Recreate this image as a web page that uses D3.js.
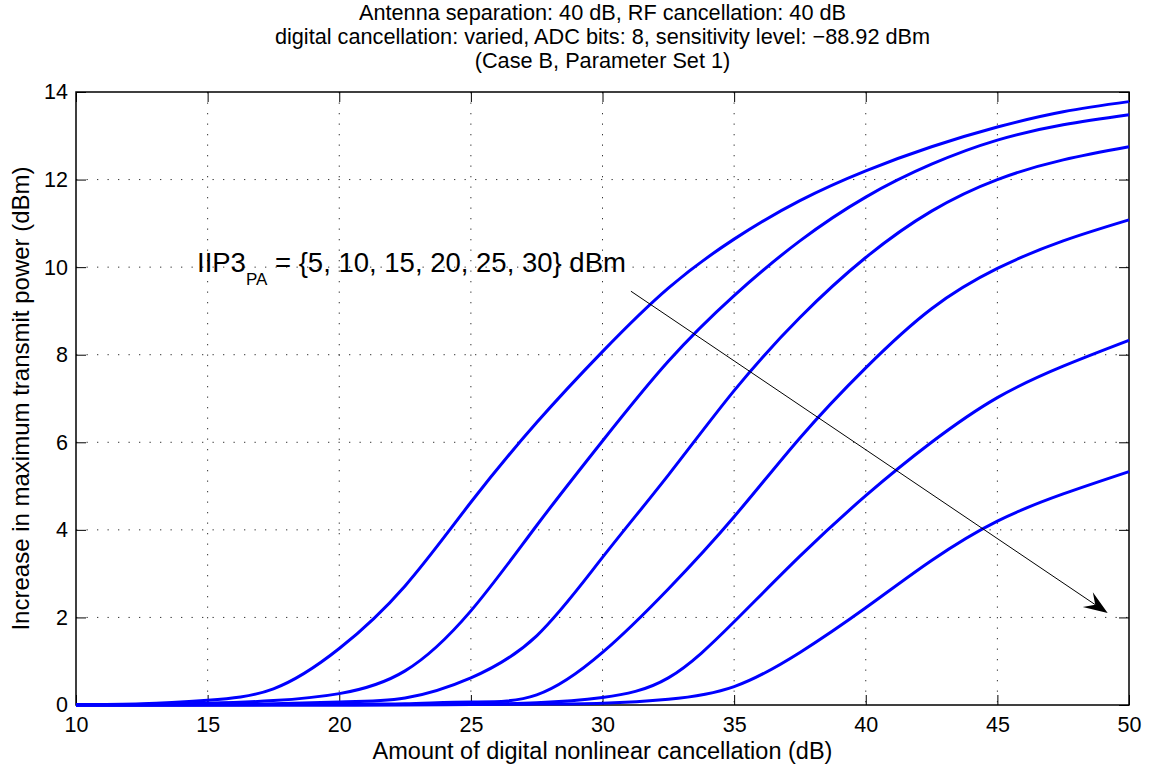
<!DOCTYPE html>
<html>
<head>
<meta charset="utf-8">
<script src="https://cdn.jsdelivr.net/npm/d3@7"></script>
<style>
  html, body { margin: 0; padding: 0; background: #fff; }
  svg { display: block; font-family: "Liberation Sans", Arial, Helvetica, sans-serif; }
</style>
</head>
<body>
<svg id="chart" width="1157" height="769"></svg>
<script>
// ---- data ----
const cancellation = [10, 12.5, 15, 17.5, 20, 22.5, 25, 27.5, 30, 32.5, 35, 37.5, 40, 42.5, 45, 47.5, 50];
const iip3Levels = [5, 10, 15, 20, 25, 30];
const seriesIIP3_5  = [0.01, 0.03, 0.11, 0.37, 1.29, 2.72, 4.63, 6.45, 8.07, 9.52, 10.64, 11.52, 12.20, 12.75, 13.20, 13.55, 13.78];
const seriesIIP3_10 = [0.00, 0.01, 0.04, 0.10, 0.26, 0.78, 2.15, 4.10, 6.03, 7.85, 9.35, 10.60, 11.60, 12.35, 12.90, 13.25, 13.48];
const seriesIIP3_15 = [0.00, 0.00, 0.01, 0.03, 0.07, 0.16, 0.62, 1.58, 3.37, 5.25, 7.18, 8.85, 10.22, 11.28, 12.00, 12.45, 12.75];
const seriesIIP3_20 = [0.00, 0.00, 0.00, 0.01, 0.02, 0.03, 0.07, 0.23, 1.20, 2.65, 4.30, 6.10, 7.70, 9.05, 9.97, 10.60, 11.08];
const seriesIIP3_25 = [0.00, 0.00, 0.00, 0.00, 0.00, 0.01, 0.02, 0.05, 0.17, 0.62, 1.90, 3.40, 4.78, 6.00, 7.02, 7.74, 8.33];
const seriesIIP3_30 = [0.00, 0.00, 0.00, 0.00, 0.00, 0.00, 0.01, 0.02, 0.04, 0.13, 0.42, 1.20, 2.22, 3.30, 4.20, 4.82, 5.33];
const xTicks = [10, 15, 20, 25, 30, 35, 40, 45, 50];
const yTicks = [0, 2, 4, 6, 8, 10, 12, 14];
const titleLines = [
  "Antenna separation: 40 dB, RF cancellation: 40 dB",
  "digital cancellation: varied, ADC bits: 8, sensitivity level: \u221288.92 dBm",
  "(Case B, Parameter Set 1)"
];
const xLabel = "Amount of digital nonlinear cancellation (dB)";
const yLabel = "Increase in maximum transmit power (dBm)";
const arrowFrom = [31.08, 9.45];
const arrowTo = [49.19, 2.10];

const allSeries = [seriesIIP3_5, seriesIIP3_10, seriesIIP3_15, seriesIIP3_20, seriesIIP3_25, seriesIIP3_30];

// ---- layout ----
const svg = d3.select("#chart");
const mLeft = 76, mRight = 1129, mTop = 92, mBottom = 705;
const x = d3.scaleLinear().domain([10, 50]).range([mLeft, mRight]);
const y = d3.scaleLinear().domain([0, 14]).range([mBottom, mTop]);
const FONT = '"Liberation Sans", Arial, Helvetica, sans-serif';

// grid
const grid = svg.append("g");
xTicks.forEach(t => {
  if (t === 10 || t === 50) return;
  grid.append("line").attr("x1", x(t)).attr("x2", x(t)).attr("y1", mTop).attr("y2", mBottom)
    .attr("stroke", "#333").attr("stroke-width", 1).attr("stroke-dasharray", "1.3,9.2");
});
yTicks.forEach(t => {
  if (t === 0 || t === 14) return;
  grid.append("line").attr("x1", mLeft).attr("x2", mRight).attr("y1", y(t)).attr("y2", y(t))
    .attr("stroke", "#333").attr("stroke-width", 1).attr("stroke-dasharray", "1.3,9.2");
});

// axes with inward ticks
const tickLen = 10;
const axB = svg.append("g").attr("transform", `translate(0,${mBottom})`)
  .call(d3.axisBottom(x).tickValues(xTicks).tickSizeInner(-tickLen).tickSizeOuter(0));
const axT = svg.append("g").attr("transform", `translate(0,${mTop})`)
  .call(d3.axisTop(x).tickValues(xTicks).tickSizeInner(-tickLen).tickSizeOuter(0).tickFormat(""));
const axL = svg.append("g").attr("transform", `translate(${mLeft},0)`)
  .call(d3.axisLeft(y).tickValues(yTicks).tickSizeInner(-tickLen).tickSizeOuter(0).tickPadding(8));
const axR = svg.append("g").attr("transform", `translate(${mRight},0)`)
  .call(d3.axisRight(y).tickValues(yTicks).tickSizeInner(-tickLen).tickSizeOuter(0).tickFormat(""));
[axB, axT, axL, axR].forEach(a => {
  a.select(".domain").remove();
  a.selectAll(".tick line").attr("stroke", "#000").attr("stroke-width", 1);
  a.selectAll("text").attr("fill", "#000").style("font-size", "21.5px").style("font-family", FONT);
});
axB.selectAll("text").attr("y", 12).attr("dy", "0.71em");

// box
svg.append("rect").attr("x", mLeft).attr("y", mTop).attr("width", mRight - mLeft).attr("height", mBottom - mTop)
  .attr("fill", "none").attr("stroke", "#000").attr("stroke-width", 1.5);

// curves
const line = d3.line().x((d, i) => x(cancellation[i])).y(d => y(d)).curve(d3.curveNatural);
allSeries.forEach((s, k) => {
  svg.append("path").datum(s).attr("d", line)
    .attr("fill", "none").attr("stroke", "#0000ff").attr("stroke-width", 3)
    .attr("data-iip3", iip3Levels[k]);
});

// arrow
const ax0 = x(arrowFrom[0]), ay0 = y(arrowFrom[1]), ax1 = x(arrowTo[0]), ay1 = y(arrowTo[1]);
const dx = ax1 - ax0, dy = ay1 - ay0, L = Math.hypot(dx, dy);
const ux = dx / L, uy = dy / L, px = -uy, py = ux;
const headLen = 24, headW = 9, notch = 15;
svg.append("line").attr("x1", ax0).attr("y1", ay0)
  .attr("x2", ax1 - ux * notch).attr("y2", ay1 - uy * notch)
  .attr("stroke", "#000").attr("stroke-width", 1);
const hp = [
  [ax1, ay1],
  [ax1 - ux * headLen + px * headW, ay1 - uy * headLen + py * headW],
  [ax1 - ux * notch, ay1 - uy * notch],
  [ax1 - ux * headLen - px * headW, ay1 - uy * headLen - py * headW]
];
svg.append("path").attr("d", "M" + hp.map(p => p.join(",")).join("L") + "Z").attr("fill", "#000");

// annotation
const ann = svg.append("text").attr("x", 197).attr("y", 272).attr("fill", "#000")
  .style("font-size", "27.5px");
ann.append("tspan").text("IIP3");
ann.append("tspan").attr("dy", 13).style("font-size", "17px").text("PA");
ann.append("tspan").attr("dy", -13).text(" = {5, 10, 15, 20, 25, 30} dBm");

// titles
const cx = (mLeft + mRight) / 2;
titleLines.forEach((t, i) => {
  svg.append("text").attr("x", cx).attr("y", 19.5 + i * 24).attr("text-anchor", "middle")
    .attr("fill", "#000").style("font-size", "21.7px").text(t);
});

// axis labels
svg.append("text").attr("x", cx).attr("y", 759).attr("text-anchor", "middle")
  .attr("fill", "#000").style("font-size", "23.5px").text(xLabel);
svg.append("text").attr("transform", `translate(29,${(mTop + mBottom) / 2}) rotate(-90)`)
  .attr("text-anchor", "middle").attr("fill", "#000").style("font-size", "24px").text(yLabel);
</script>
</body>
</html>
